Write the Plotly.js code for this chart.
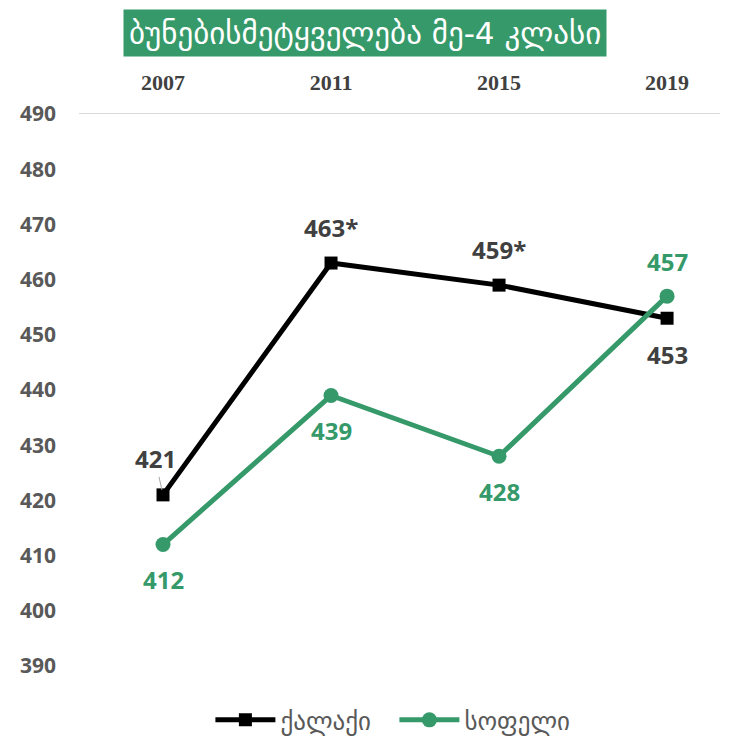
<!DOCTYPE html>
<html>
<head>
<meta charset="utf-8">
<script src="https://cdn.plot.ly/plotly-3.0.1.min.js"></script>
<style>
  html, body { margin: 0; padding: 0; background: #fff; }
  #chart { width: 738px; height: 738px; }
</style>
</head>
<body>
<div id="chart"></div>
<script>
// years on the top axis
var years = ['2007', '2011', '2015', '2019'];

// ქალაქი (city) and სოფელი (village)
var cityName = 'ქალაქი';
var cityValues = [421, 463, 459, 453];
var cityLabels = ['421', '463*', '459*', '453'];

var villageName = 'სოფელი';
var villageValues = [412, 439, 428, 457];
var villageLabels = ['412', '439', '428', '457'];

var titleText = 'ბუნებისმეტყველება მე-4 კლასი';

var black = '#000000';
var green = '#35996a';
var georgian = 'DejaVu Sans, Noto Sans, sans-serif';

var traces = [
    {
        type: 'scatter',
        mode: 'lines+markers',
        name: cityName,
        x: years,
        y: cityValues,
        line: { color: black, width: 5 },
        marker: { symbol: 'square', size: 13, color: black }
    },
    {
        type: 'scatter',
        mode: 'lines+markers',
        name: villageName,
        x: years,
        y: villageValues,
        line: { color: green, width: 5 },
        marker: { symbol: 'circle', size: 15, color: green }
    }
];

// label above (+1) or below (-1) each point
var cityPos = [1, 1, 1, -1];
var villagePos = [-1, -1, -1, 1];

var annotations = [];
for (var i = 0; i < years.length; i++) {
    // category axis: annotations use the category index
    var a = {
        x: i, y: cityValues[i],
        text: cityLabels[i],
        showarrow: false,
        yshift: 36 * cityPos[i],
        font: { family: 'Open Sans, sans-serif', size: 24, color: '#404040', weight: 700 }
    };
    if (i === 0) {
        // little leader line that Excel drew for the first label
        a.showarrow = true;
        a.arrowhead = 0;
        a.arrowwidth = 1;
        a.arrowcolor = '#a6a6a6';
        a.ax = -8;
        a.ay = -36;
        a.yshift = 0;
        a.standoff = 5;
    }
    annotations.push(a);
    annotations.push({
        x: i, y: villageValues[i],
        text: villageLabels[i],
        showarrow: false,
        yshift: 35 * villagePos[i],
        font: { family: 'Open Sans, sans-serif', size: 24, color: green, weight: 700 }
    });
}

// title in a green box
annotations.push({
    xref: 'paper', yref: 'paper',
    x: (365 - 79) / 641, y: 1,
    yanchor: 'middle',
    yshift: 81,
    text: titleText,
    showarrow: false,
    bgcolor: green,
    borderpad: 5,
    font: { family: georgian, size: 31, color: '#ffffff' }
});

var layout = {
    width: 738,
    height: 738,
    margin: { l: 79, r: 18, t: 114, b: 72, autoexpand: false },
    paper_bgcolor: '#ffffff',
    plot_bgcolor: '#ffffff',
    showlegend: true,
    legend: {
        orientation: 'h',
        x: 0.205, xanchor: 'left',
        y: -0.098, yanchor: 'middle',
        font: { family: georgian, size: 25, color: '#595959' },
        itemwidth: 60,
        entrywidth: 109,
        entrywidthmode: 'pixels'
    },
    xaxis: {
        type: 'category',
        side: 'top',
        range: [-0.5, 3.315],
        showgrid: false,
        zeroline: false,
        showline: true,
        linecolor: '#d9d9d9',
        linewidth: 1.5,
        ticks: '',
        ticklabelstandoff: 14,
        tickfont: { family: 'Liberation Serif, serif', size: 22, color: '#404040', weight: 700 }
    },
    yaxis: {
        range: [390, 490],
        dtick: 10,
        showgrid: false,
        zeroline: false,
        showline: false,
        ticks: '',
        ticklabelstandoff: 22,
        tickfont: { family: 'Open Sans, sans-serif', size: 21, color: '#595959', weight: 700 }
    },
    annotations: annotations
};

Plotly.newPlot('chart', traces, layout, { displayModeBar: false, staticPlot: true });
</script>
</body>
</html>
